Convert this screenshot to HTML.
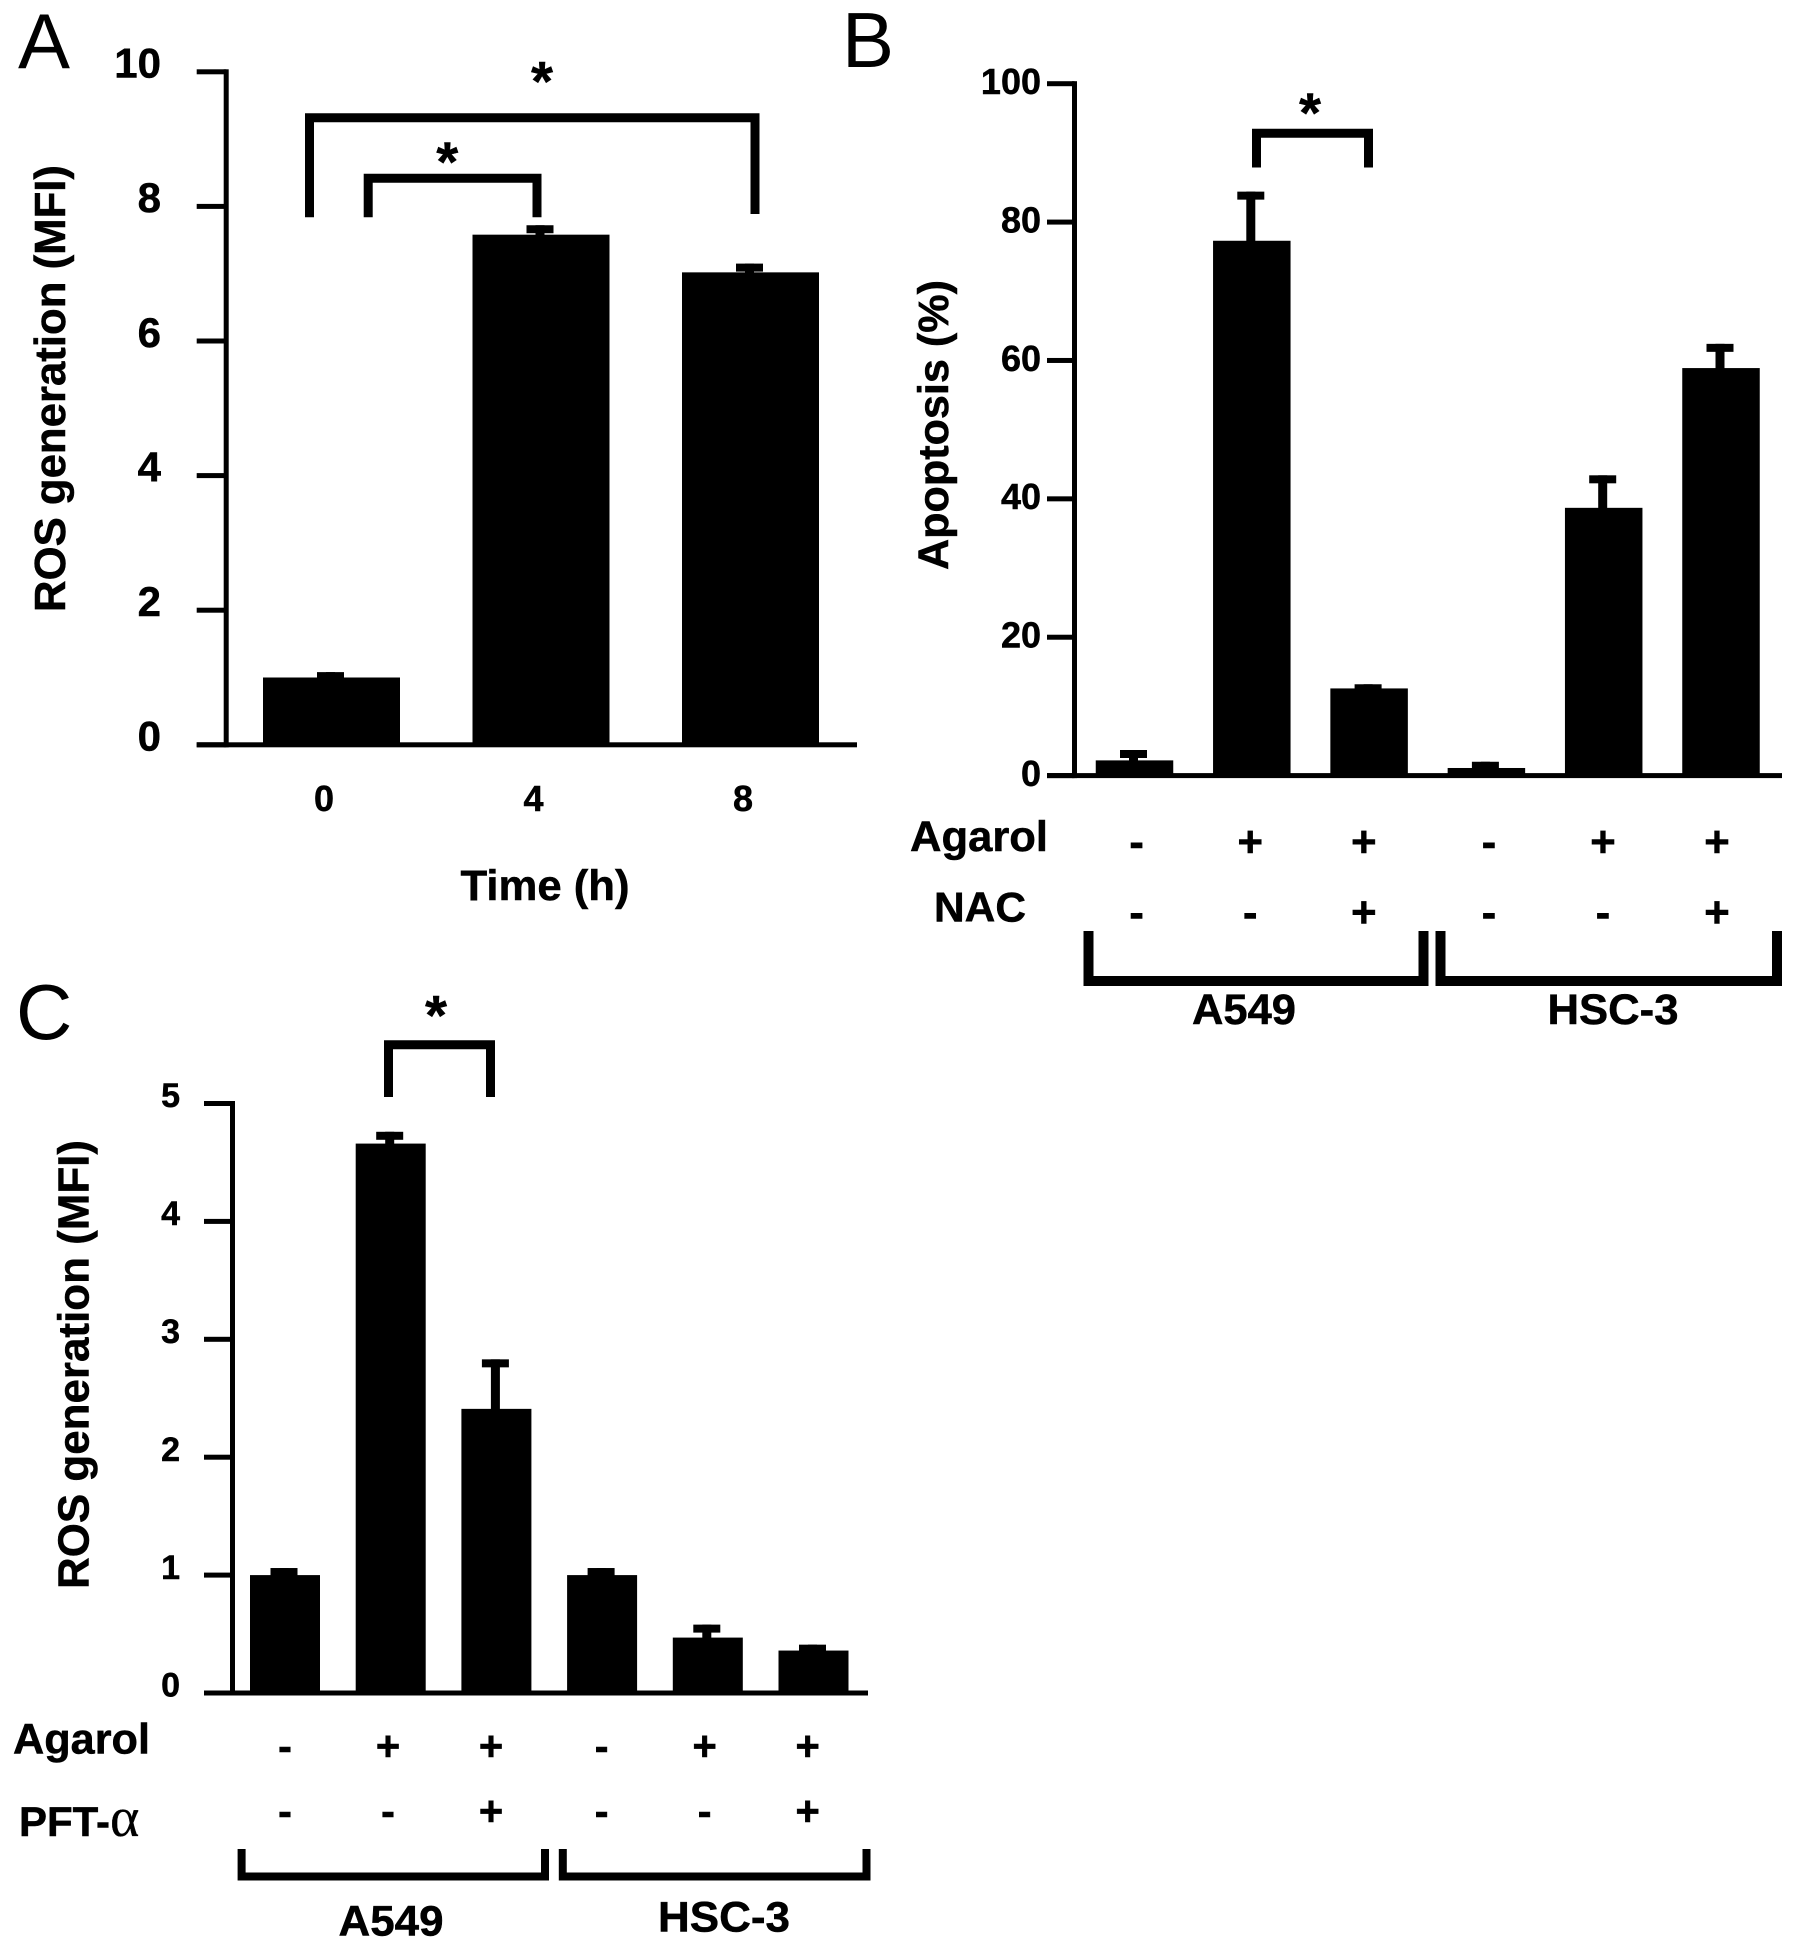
<!DOCTYPE html>
<html>
<head>
<meta charset="utf-8">
<title>ROS generation and apoptosis bar charts</title>
<style>
html,body{margin:0;padding:0;background:#fff;width:1795px;height:1951px;overflow:hidden}
svg{display:block}
text{font-family:"Liberation Sans",sans-serif;font-weight:700;fill:#000;stroke:#000;stroke-width:.5}
.panel{font-weight:400;font-size:78px;stroke-width:0}
.bracket{fill:none;stroke:#000;stroke-linejoin:miter}
</style>
</head>
<body>
<svg id="figure" xmlns="http://www.w3.org/2000/svg" width="1795" height="1951" viewBox="0 0 1795 1951">
  <rect x="0" y="0" width="1795" height="1951" fill="#fff"/>

  <text class="panel" x="18" y="68">A</text>
  <text class="panel" x="842" y="67">B</text>
  <text class="panel" x="16" y="1039">C</text>

  <text transform="translate(65,612) rotate(-90)" font-size="44" textLength="447" lengthAdjust="spacingAndGlyphs">ROS generation (MFI)</text>
  <text x="545" y="900" font-size="43" text-anchor="middle" textLength="169" lengthAdjust="spacingAndGlyphs">Time (h)</text>
  <path class="bracket" stroke-width="9" d="M309.500 217.300V117.800H755V214"/>
  <path class="bracket" stroke-width="9" d="M368.200 217.300V178.200H537V217.300"/>
  <text x="542" y="100.500" font-size="56" text-anchor="middle">*</text>
  <text x="447.300" y="181" font-size="56" text-anchor="middle">*</text>

  <text transform="translate(948,570) rotate(-90)" font-size="43" textLength="290" lengthAdjust="spacingAndGlyphs">Apoptosis (%)</text>
  <path class="bracket" stroke-width="9" d="M1256.500 167.500V133.300H1368.500V167.500"/>
  <text x="1310" y="132" font-size="56" text-anchor="middle">*</text>
  <text x="910" y="851" font-size="43" textLength="138" lengthAdjust="spacingAndGlyphs">Agarol</text>
  <text x="934" y="921.500" font-size="42" textLength="92" lengthAdjust="spacingAndGlyphs">NAC</text>
  <path class="bracket" stroke-width="10" d="M1088.500 931V981H1423.500V931"/>
  <path class="bracket" stroke-width="10" d="M1440.500 931V981H1777V931"/>
  <text x="1244" y="1024" font-size="43" text-anchor="middle" textLength="104" lengthAdjust="spacingAndGlyphs">A549</text>
  <text x="1613" y="1024" font-size="43" text-anchor="middle" textLength="131" lengthAdjust="spacingAndGlyphs">HSC-3</text>

  <text transform="translate(88.500,1589) rotate(-90)" font-size="44" textLength="449" lengthAdjust="spacingAndGlyphs">ROS generation (MFI)</text>
  <path class="bracket" stroke-width="9" d="M388.500 1097V1044.800H490.500V1097"/>
  <text x="436" y="1034.500" font-size="56" text-anchor="middle">*</text>
  <text x="13" y="1753.500" font-size="43" textLength="137" lengthAdjust="spacingAndGlyphs">Agarol</text>
  <text x="19" y="1836" font-size="42">PFT-<tspan font-family="'Liberation Serif',serif" font-weight="400" font-size="56" stroke-width="0.300">α</tspan></text>
  <path class="bracket" stroke-width="8" d="M241.600 1849V1876.500H545V1849"/>
  <path class="bracket" stroke-width="8" d="M562.800 1849V1876.500H866.500V1849"/>
  <text x="391" y="1935.500" font-size="43" text-anchor="middle" textLength="105" lengthAdjust="spacingAndGlyphs">A549</text>
  <text x="724" y="1931.500" font-size="43" text-anchor="middle" textLength="132" lengthAdjust="spacingAndGlyphs">HSC-3</text>
</svg>

<script>
// Panel A data
const panelACategories = ['0', '4', '8'];
const panelAMeans = [1.0, 7.58, 7.02];
const panelAUpperErrors = [1.08, 7.72, 7.15];
const panelATicks = [0, 2, 4, 6, 8, 10];

// Panel B data
const panelBMeans = [2.2, 77.3, 12.6, 1.1, 38.7, 58.9];
const panelBUpperErrors = [3.7, 84.4, 13.2, 2.0, 43.4, 62.4];
const panelBTicks = [0, 20, 40, 60, 80, 100];
const panelBAgarol = ['-', '+', '+', '-', '+', '+'];
const panelBNac = ['-', '-', '+', '-', '-', '+'];

// Panel C data
const panelCMeans = [1.0, 4.66, 2.41, 1.0, 0.47, 0.36];
const panelCUpperErrors = [1.06, 4.76, 2.83, 1.06, 0.58, 0.41];
const panelCTicks = [0, 1, 2, 3, 4, 5];
const panelCAgarol = ['-', '+', '+', '-', '+', '+'];
const panelCPft = ['-', '-', '+', '-', '-', '+'];

const svg = document.getElementById('figure');
const NS = 'http://www.w3.org/2000/svg';

function makeRect(x, y, w, h, name) {
  const el = document.createElementNS(NS, 'rect');
  el.setAttribute('x', x);
  el.setAttribute('y', y);
  el.setAttribute('width', w);
  el.setAttribute('height', h);
  el.setAttribute('fill', '#000');
  
  
  svg.appendChild(el);
  return el;
}

function makeText(str, x, cy, size, anchor, name) {
  const el = document.createElementNS(NS, 'text');
  el.setAttribute('x', x);
  el.setAttribute('y', cy + 0.358 * size);
  el.setAttribute('font-size', size);
  el.setAttribute('text-anchor', anchor);
  el.textContent = str;
  
  
  svg.appendChild(el);
  return el;
}

function drawBarPanel(p) {
  const yScale = v => p.y0 - (v / p.yMax) * (p.y0 - p.yTop);
  const xScale = i => p.firstCenter + i * p.pitch;

  // axes
  makeRect(p.axisX - 2.5, p.yTop - 2.5, 5, p.y0 - p.yTop + 5, p.id + '-y-axis-line');
  makeRect(p.tickLeft, p.y0 - 2.5, p.xEnd - p.tickLeft, 5, p.id + '-x-axis-line');
  p.ticks.forEach(t => {
    makeRect(p.tickLeft, yScale(t) - 2.5, p.axisX - p.tickLeft, 5, p.id + '-y-tick-' + t);
    makeText(String(t), p.labelRight, yScale(t) - p.labelLift, p.tickFont, 'end', p.id + '-y-tick-label-' + t);
  });

  // bars and error bars
  p.means.forEach((m, i) => {
    const c = xScale(i);
    const top = yScale(m);
    const errTop = yScale(p.errors[i]);
    makeRect(c - p.barWidth / 2, top, p.barWidth, p.y0 - top, p.id + '-bar-' + (i + 1));
    makeRect(c - p.stem / 2 - 1, errTop, p.stem, top - errTop + 1, p.id + '-error-stem-' + (i + 1));
    makeRect(c - p.capWidth / 2 - 1, errTop, p.capWidth, p.capHeight, p.id + '-error-cap-' + (i + 1));
  });
}

drawBarPanel({
  id: 'panel-a', means: panelAMeans, errors: panelAUpperErrors, ticks: panelATicks,
  axisX: 226.2, tickLeft: 196.7, xEnd: 857, y0: 744.8, yTop: 71.8, yMax: 10,
  firstCenter: 331.5, pitch: 209.5, barWidth: 137, stem: 9, capWidth: 27, capHeight: 8,
  labelRight: 161, labelLift: 9.2, tickFont: 42
});
panelACategories.forEach((c, i) => {
  makeText(c, 324 + i * 209.5, 798.2, 36, 'middle', 'panel-a-x-tick-label-' + c);
});

drawBarPanel({
  id: 'panel-b', means: panelBMeans, errors: panelBUpperErrors, ticks: panelBTicks,
  axisX: 1074.5, tickLeft: 1047, xEnd: 1782, y0: 775.6, yTop: 83.7, yMax: 100,
  firstCenter: 1134.5, pitch: 117.3, barWidth: 77.5, stem: 9, capWidth: 27, capHeight: 8,
  labelRight: 1041, labelLift: 2.5, tickFont: 36
});
const panelBRowCenters = i => (i < 3 ? 1136.6 + i * 113.6 : 1489 + (i - 3) * 114);
panelBAgarol.forEach((s, i) => {
  makeText(s, panelBRowCenters(i), 840.5, 44, 'middle', 'panel-b-agarol-sign-' + (i + 1));
});
panelBNac.forEach((s, i) => {
  makeText(s, panelBRowCenters(i), 911, 44, 'middle', 'panel-b-nac-sign-' + (i + 1));
});

drawBarPanel({
  id: 'panel-c', means: panelCMeans, errors: panelCUpperErrors, ticks: panelCTicks,
  axisX: 232.5, tickLeft: 204, xEnd: 868, y0: 1693, yTop: 1103.5, yMax: 5,
  firstCenter: 285, pitch: 105.7, barWidth: 70, stem: 9, capWidth: 27, capHeight: 8,
  labelRight: 180, labelLift: 8.5, tickFont: 34
});
const panelCRowCenters = i => (i < 3 ? 285 + i * 103 : 601.6 + (i - 3) * 103);
panelCAgarol.forEach((s, i) => {
  makeText(s, panelCRowCenters(i), 1745.5, 42, 'middle', 'panel-c-agarol-sign-' + (i + 1));
});
panelCPft.forEach((s, i) => {
  makeText(s, panelCRowCenters(i), 1810.5, 42, 'middle', 'panel-c-pft-sign-' + (i + 1));
});
</script>
</body>
</html>
